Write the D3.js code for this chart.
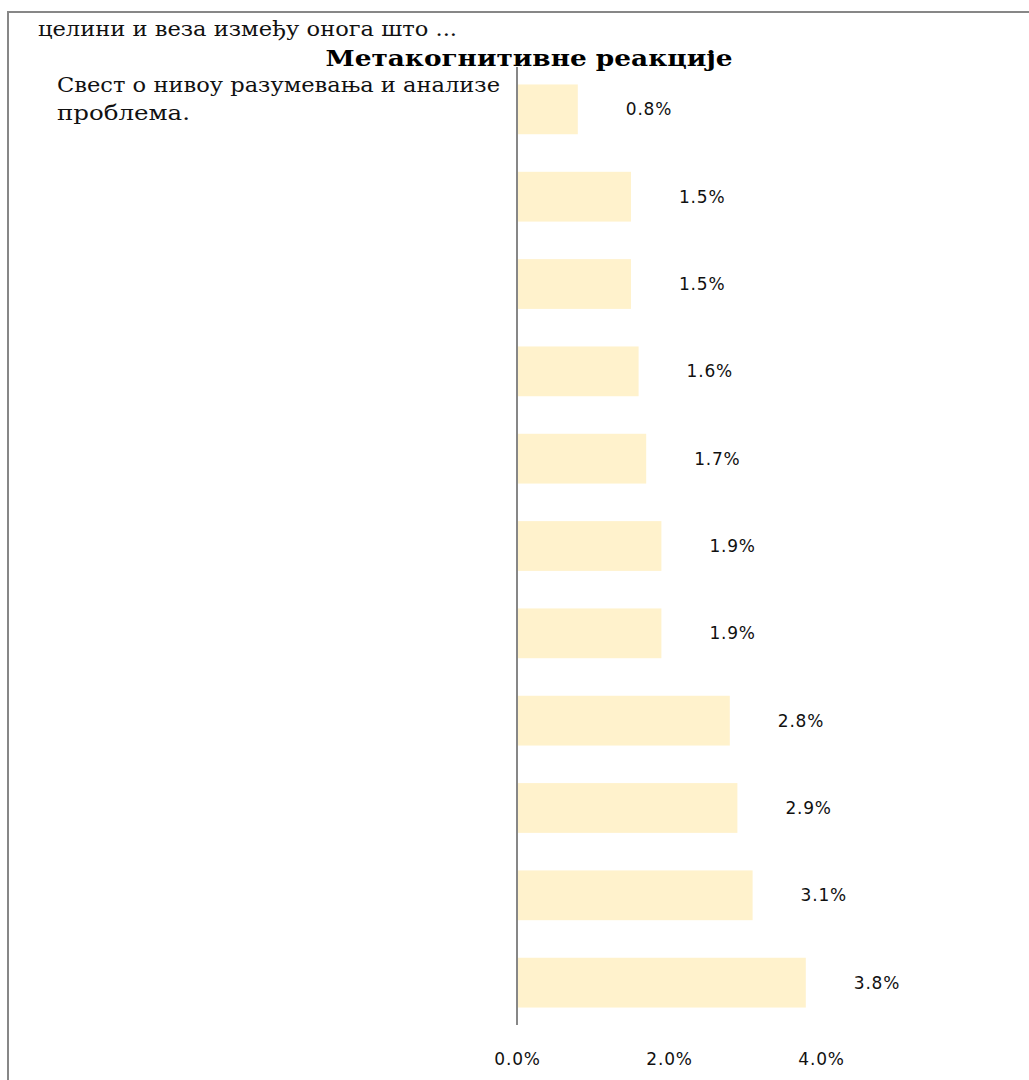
<!DOCTYPE html>
<html>
<head>
<meta charset="utf-8">
<script src="https://cdn.jsdelivr.net/npm/d3@7"></script>
<style>
  body { margin: 0; background: #fff; }
  svg { display: block; }
</style>
</head>
<body>
<div class="container"></div>
<script>
// top to bottom, only the first label is visible in the chart
var categories = ["Свест о нивоу разумевања и анализе проблема.", "", "", "", "", "", "", "", "", "", ""];
var values = [0.8, 1.5, 1.5, 1.6, 1.7, 1.9, 1.9, 2.8, 2.9, 3.1, 3.8];
var tickValues = [0, 2, 4];
var title = "Метакогнитивне реакције";
var overflowText = "целини и веза између онога што ...";

var width = 1029,
    height = 1080;

var svg = d3.select(".container")
    .append("svg")
    .attr("width", width)
    .attr("height", height);

// chart area border (runs off the right and bottom)
svg.append("rect")
    .attr("x", 8)
    .attr("y", 12)
    .attr("width", 1040)
    .attr("height", 1100)
    .attr("fill", "none")
    .attr("stroke", "#878787")
    .attr("stroke-width", 2);

var x = d3.scaleLinear()
    .domain([0, 4])
    .range([517, 821]);

var y = d3.scaleBand()
    .domain(d3.range(values.length))
    .range([67, 1025])
    .paddingInner(0.43)
    .paddingOuter(0.2);

svg.append("g")
    .selectAll("rect")
    .data(values)
    .enter()
    .append("rect")
    .attr("x", x(0))
    .attr("y", function (d, i) { return y(i); })
    .attr("width", function (d) { return x(d) - x(0); })
    .attr("height", y.bandwidth())
    .attr("fill", "#fff2cc");

// value labels
svg.append("g")
    .selectAll("text")
    .data(values)
    .enter()
    .append("text")
    .attr("x", function (d) { return x(d) + 48; })
    .attr("y", function (d, i) { return y(i) + y.bandwidth() / 2; })
    .attr("dy", "0.35em")
    .style("font-family", "'DejaVu Sans', sans-serif")
    .style("font-size", "17px")
    .style("letter-spacing", "0.8px")
    .style("fill", "#111")
    .text(function (d) { return d.toFixed(1) + "%"; });

// vertical axis line
svg.append("line")
    .attr("x1", x(0))
    .attr("x2", x(0))
    .attr("y1", 67)
    .attr("y2", 1025)
    .attr("stroke", "#878787")
    .attr("stroke-width", 2);

var xAxis = svg.append("g")
    .attr("transform", "translate(0,1050)")
    .call(d3.axisBottom(x)
        .tickValues(tickValues)
        .tickSize(0)
        .tickFormat(function (d) { return d.toFixed(1) + "%"; }));
xAxis.select(".domain").remove();
xAxis.selectAll("text")
    .style("font-family", "'DejaVu Sans', sans-serif")
    .style("font-size", "17px")
    .style("letter-spacing", "0.8px")
    .style("fill", "#111");

// text that overflows from the chart above
svg.append("text")
    .attr("x", 38)
    .attr("y", 36)
    .attr("textLength", 419)
    .attr("lengthAdjust", "spacingAndGlyphs")
    .style("font-family", "'DejaVu Serif', serif")
    .style("font-size", "20px")
    .style("fill", "#111")
    .text(overflowText);

svg.append("text")
    .attr("x", 529)
    .attr("y", 66)
    .attr("text-anchor", "middle")
    .attr("textLength", 407)
    .attr("lengthAdjust", "spacingAndGlyphs")
    .style("font-family", "'DejaVu Serif', serif")
    .style("font-weight", "bold")
    .style("font-size", "22px")
    .style("fill", "#000")
    .text(title);

// first category label, wrapped on two lines
var words = categories[0].split(" ");
var label = svg.append("text")
    .style("font-family", "'DejaVu Serif', serif")
    .style("font-size", "20px")
    .style("fill", "#111");
label.append("tspan")
    .attr("x", 57)
    .attr("y", 92)
    .attr("textLength", 443)
    .attr("lengthAdjust", "spacingAndGlyphs")
    .text(words.slice(0, 6).join(" "));
label.append("tspan")
    .attr("x", 57)
    .attr("y", 120)
    .attr("textLength", 133)
    .attr("lengthAdjust", "spacingAndGlyphs")
    .text(words.slice(6).join(" "));
</script>
</body>
</html>
